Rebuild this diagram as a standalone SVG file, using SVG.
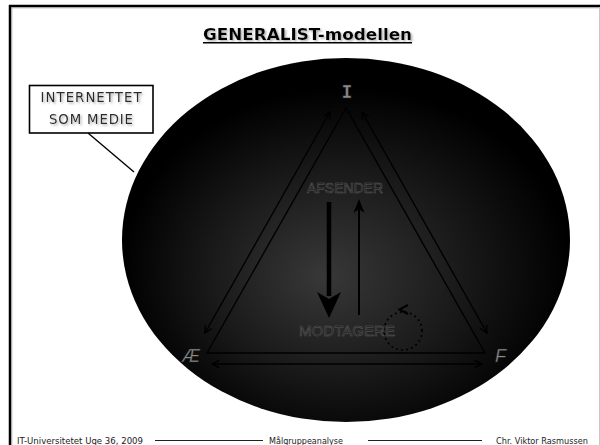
<svg xmlns="http://www.w3.org/2000/svg" width="600" height="445" viewBox="0 0 600 445">
<defs>
<radialGradient id="bg" cx="0.5" cy="0.58" r="0.5" fx="0.45" fy="0.6">
<stop offset="0" stop-color="#383838"/>
<stop offset="0.55" stop-color="#1a1a1a"/>
<stop offset="1" stop-color="#000"/>
</radialGradient>
<filter id="sh" x="-10%" y="-30%" width="120%" height="160%">
<feDropShadow dx="1.5" dy="1.5" stdDeviation="1" flood-color="#999" flood-opacity="0.8"/>
</filter>
<marker id="open" viewBox="0 0 10 10" refX="9" refY="5" markerWidth="9" markerHeight="9" markerUnits="userSpaceOnUse" orient="auto-start-reverse">
<path d="M1,1 L9,5 L1,9" fill="none" stroke="#000" stroke-width="1.6"/>
</marker>
<style>
.ln{stroke:#000;stroke-width:1.4;fill:none}
.lbl{font-family:"Liberation Sans",Arial,sans-serif;font-size:14px;fill:#1a1a1a;stroke:#5e5e5e;stroke-width:0.5}
.corner{font-family:"Liberation Sans",Arial,sans-serif;font-size:18px;font-style:italic;fill:#8a8a8a;stroke:#222;stroke-width:0.4}
.foot{font-family:"DejaVu Sans",Verdana,sans-serif;font-size:8.8px;fill:#222}
.fl{stroke:#222;stroke-width:1}
.call{font-family:"DejaVu Sans",Verdana,sans-serif;font-size:13.3px;fill:#2a2a2a}
</style>
</defs>
<rect width="600" height="445" fill="#fff"/>
<g id="frame">
<line x1="9" y1="6" x2="600" y2="6" stroke="#000" stroke-width="2.5"/>
<line x1="10" y1="5" x2="10" y2="445" stroke="#000" stroke-width="2.5"/>
<line x1="11.8" y1="7.8" x2="600" y2="7.8" stroke="#999" stroke-width="0.8"/>
<line x1="11.8" y1="7.8" x2="11.8" y2="445" stroke="#999" stroke-width="0.8"/>
<line x1="599.5" y1="7" x2="599.5" y2="445" stroke="#c8c8c8" stroke-width="1"/>
</g>
<g id="title">
<text x="307.5" y="39.5" text-anchor="middle" font-family="'DejaVu Sans',Verdana,sans-serif" font-weight="bold" font-size="16" textLength="209" lengthAdjust="spacingAndGlyphs" fill="#000" filter="url(#sh)">GENERALIST-modellen</text>
<line x1="203" y1="42.7" x2="412" y2="42.7" stroke="#000" stroke-width="1.5"/>
</g>
<g id="ellipse">
<ellipse cx="346" cy="240" rx="224" ry="182" fill="url(#bg)"/>
</g>
<g id="callout">
<rect x="29.5" y="85.5" width="123.5" height="47.5" fill="#fff" stroke="#000" stroke-width="1.6"/>
<text class="call" x="91" y="102" text-anchor="middle" textLength="101" lengthAdjust="spacing" filter="url(#sh)">INTERNETTET</text>
<text class="call" x="91" y="124" text-anchor="middle" textLength="84" lengthAdjust="spacing" filter="url(#sh)">SOM MEDIE</text>
</g>
<g id="connectors">
<line class="ln" x1="88" y1="133" x2="134" y2="172"/>
<polygon class="ln" points="346,108 207,353 485,353" stroke-linejoin="miter"/>
<line class="ln" x1="205" y1="333" x2="330" y2="112" marker-start="url(#open)" marker-end="url(#open)"/>
<line class="ln" x1="487" y1="333" x2="362" y2="112" marker-start="url(#open)" marker-end="url(#open)"/>
<line class="ln" x1="212" y1="364" x2="482" y2="364" marker-start="url(#open)" marker-end="url(#open)"/>
<line x1="329" y1="202" x2="329" y2="296" stroke="#000" stroke-width="4.5"/>
<polygon points="317,292 329,299 341,292 329,318" fill="#000"/>
<line x1="359" y1="315" x2="359" y2="207" stroke="#000" stroke-width="2"/>
<polygon points="353.5,213 359,209 364.5,213 359,199" fill="#000"/>
<circle cx="403" cy="331" r="19" fill="none" stroke="#000" stroke-width="2" stroke-dasharray="0.1 5" stroke-linecap="round"/>
<path d="M408,305 L399.5,309.5 L408,314" fill="none" stroke="#000" stroke-width="2"/>
</g>
<g id="node-I">
<text x="347" y="98" text-anchor="middle" font-family="'DejaVu Sans Mono',monospace" font-size="18" font-weight="bold" fill="#8a8a8a" stroke="#222" stroke-width="0.4">I</text>
</g>
<g id="node-AE">
<text class="corner" x="182" y="362">Æ</text>
</g>
<g id="node-F">
<text class="corner" x="495" y="362">F</text>
</g>
<g id="node-afsender">
<text class="lbl" x="307" y="193" textLength="76" lengthAdjust="spacingAndGlyphs">AFSENDER</text>
</g>
<g id="node-modtagere">
<text class="lbl" x="299" y="336" textLength="96" lengthAdjust="spacingAndGlyphs">MODTAGERE</text>
</g>
<g id="footer">
<text class="foot" x="17" y="443.5" textLength="126" lengthAdjust="spacingAndGlyphs">IT-Universitetet Uge 36, 2009</text>
<line class="fl" x1="155" y1="440.5" x2="263" y2="440.5"/>
<text class="foot" x="269" y="443.5" textLength="74" lengthAdjust="spacingAndGlyphs">Målgruppeanalyse</text>
<line class="fl" x1="368" y1="440.5" x2="482" y2="440.5"/>
<text class="foot" x="496" y="443.5" textLength="92" lengthAdjust="spacingAndGlyphs">Chr. Viktor Rasmussen</text>
</g>
</svg>
